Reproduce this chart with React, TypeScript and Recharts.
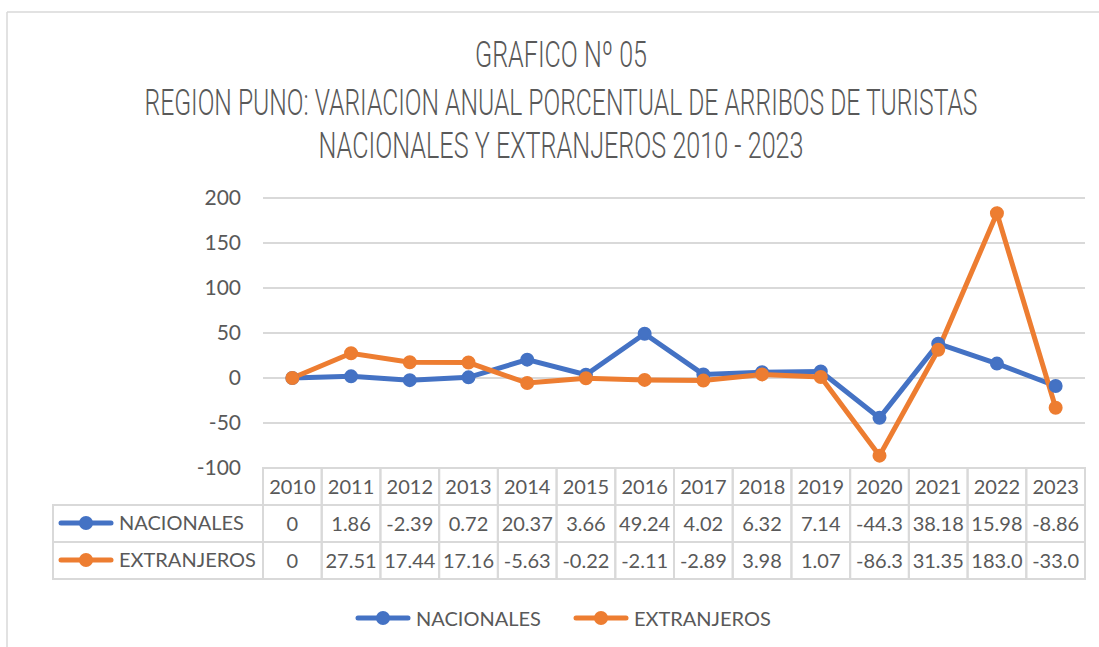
import React from "react";
import { LineChart, Line, XAxis, YAxis, CartesianGrid, Legend } from "recharts";

const years = ["2010", "2011", "2012", "2013", "2014", "2015", "2016", "2017", "2018", "2019", "2020", "2021", "2022", "2023"];
const nacionales = [0, 1.86, -2.39, 0.72, 20.37, 3.66, 49.24, 4.02, 6.32, 7.14, -44.3, 38.18, 15.98, -8.86];
const extranjeros = [0, 27.51, 17.44, 17.16, -5.63, -0.22, -2.11, -2.89, 3.98, 1.07, -86.3, 31.35, 183.0, -33.0];
const yTicks = [-100, -50, 0, 50, 100, 150, 200];
const titleLines = [
  "GRAFICO Nº 05",
  "REGION PUNO: VARIACION ANUAL PORCENTUAL DE ARRIBOS DE TURISTAS",
  "NACIONALES Y EXTRANJEROS 2010 - 2023",
];
const seriesNames = ["NACIONALES", "EXTRANJEROS"];

const data = years.map((y, i) => ({ year: y, nac: nacionales[i], ext: extranjeros[i] }));

const W = 1099;
const H = 647;
const PLOT_LEFT = 263;
const PLOT_RIGHT = 1085;
const CW = (PLOT_RIGHT - PLOT_LEFT) / years.length;
const BLUE = "#4472C4";
const ORANGE = "#ED7D31";
const TEXT = "#595959";
const GRID = "#d9d9d9";
const FONT = "Lato, 'Open Sans', sans-serif";
const FS = 20;
const ROW_H = 37;
const LABEL_LEFT = 53;

const fmt = (v: number) => {
  if (v === 0) return "0";
  const s = v.toFixed(2);
  return s.length > 5 ? v.toFixed(1) : s;
};

const Icon = ({ x, y, color }: { x: number; y: number; color: string }) => (
  <g>
    <line x1={x + 3} y1={y} x2={x + 53} y2={y} stroke={color} strokeWidth={5} strokeLinecap="round" />
    <circle cx={x + 28} cy={y} r={7} fill={color} />
  </g>
);

const TableTick = (props: any) => {
  const { x, y, payload } = props;
  const i = payload.index;
  const left = x - CW / 2;
  const cells = [years[i], fmt(nacionales[i]), fmt(extranjeros[i])];
  return (
    <g>
      <rect x={left} y={y} width={CW} height={ROW_H * 3} fill="none" stroke={GRID} strokeWidth={2} />
      <line x1={left} y1={y + ROW_H} x2={left + CW} y2={y + ROW_H} stroke={GRID} strokeWidth={2} />
      <line x1={left} y1={y + ROW_H * 2} x2={left + CW} y2={y + ROW_H * 2} stroke={GRID} strokeWidth={2} />
      {cells.map((c, r) => (
        <text key={r} x={x} y={y + 26 + r * ROW_H} textAnchor="middle" fill={TEXT} fontSize={FS} fontFamily={FONT}>
          {c}
        </text>
      ))}
      {i === 0 && (
        <g>
          <rect x={LABEL_LEFT} y={y + ROW_H} width={left - LABEL_LEFT} height={ROW_H * 2} fill="none" stroke={GRID} strokeWidth={2} />
          <line x1={LABEL_LEFT} y1={y + ROW_H * 2} x2={left} y2={y + ROW_H * 2} stroke={GRID} strokeWidth={2} />
          {seriesNames.map((n, r) => (
            <g key={n}>
              <Icon x={LABEL_LEFT + 5} y={y + ROW_H * (r + 1) + 18} color={r === 0 ? BLUE : ORANGE} />
              <text x={LABEL_LEFT + 66} y={y + ROW_H * (r + 1) + 25} fill={TEXT} fontSize={FS} fontFamily={FONT}>
                {n}
              </text>
            </g>
          ))}
        </g>
      )}
    </g>
  );
};

const LegendContent = () => (
  <div style={{ display: "flex", alignItems: "center", height: 26, paddingLeft: 355, fontFamily: FONT, fontSize: FS, color: TEXT }}>
    {seriesNames.map((n, r) => (
      <div key={n} style={{ display: "flex", alignItems: "center", marginRight: 32 }}>
        <svg width={58} height={18} style={{ display: "block" }}>
          <Icon x={0} y={9} color={r === 0 ? BLUE : ORANGE} />
        </svg>
        <span style={{ marginLeft: 3, lineHeight: "26px" }}>{n}</span>
      </div>
    ))}
  </div>
);

export default function App() {
  return (
    <div style={{ position: "absolute", left: 0, top: 0, width: W, height: H, background: "#fff", overflow: "hidden" }}>
      <LineChart width={W} height={H} data={data} margin={{ top: 198, right: W - PLOT_RIGHT, left: PLOT_LEFT - 60, bottom: 16 }}>
        <CartesianGrid vertical={false} stroke={GRID} strokeWidth={2} />
        <XAxis
          dataKey="year"
          type="category"
          interval={0}
          padding={{ left: CW / 2, right: CW / 2 }}
          axisLine={false}
          tickLine={false}
          tickSize={0}
          tickMargin={0}
          height={137}
          tick={<TableTick />}
        />
        <YAxis
          width={60}
          domain={[-100, 200]}
          ticks={yTicks}
          axisLine={false}
          tickLine={false}
          tickSize={0}
          tickMargin={22}
          tick={{ fill: TEXT, fontSize: 21, fontFamily: FONT }}
        />
        <Legend verticalAlign="bottom" wrapperStyle={{ left: 0, width: W }} content={<LegendContent />} />
        <Line type="linear" dataKey="nac" name={seriesNames[0]} stroke={BLUE} strokeWidth={5} dot={{ r: 6, fill: BLUE, stroke: BLUE, strokeWidth: 2 }} isAnimationActive={false} />
        <Line type="linear" dataKey="ext" name={seriesNames[1]} stroke={ORANGE} strokeWidth={5} dot={{ r: 6, fill: ORANGE, stroke: ORANGE, strokeWidth: 2 }} isAnimationActive={false} />
      </LineChart>
      <svg width={W} height={H} style={{ position: "absolute", left: 0, top: 0, pointerEvents: "none" }}>
        <line x1={7} y1={12} x2={W} y2={12} stroke={GRID} strokeWidth={1.5} />
        <line x1={7} y1={12} x2={7} y2={H} stroke={GRID} strokeWidth={1.5} />
        {titleLines.map((t, k) => (
          <g key={k} transform={`translate(561,${[67, 115, 158][k]}) scale(1,1.35)`}>
            <text
              x={0}
              y={0}
              textAnchor="middle"
              fill={TEXT}
              fontSize={27}
              fontWeight={300}
              fontFamily="Roboto, 'DejaVu Sans Condensed', sans-serif"
              textLength={[172, 833, 485][k]}
              lengthAdjust="spacingAndGlyphs"
            >
              {t}
            </text>
          </g>
        ))}
      </svg>
    </div>
  );
}
